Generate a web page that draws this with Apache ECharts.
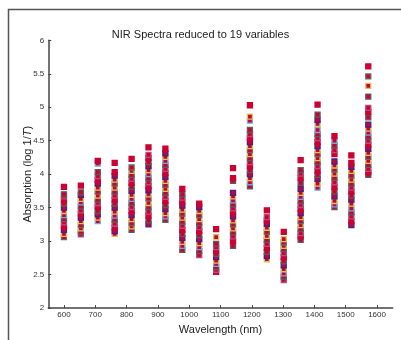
<!DOCTYPE html>
<html>
<head>
<meta charset="utf-8">
<script src="https://cdn.jsdelivr.net/npm/echarts@6/dist/echarts.min.js"></script>
<style>html,body{margin:0;padding:0;background:#fff;}#c{width:401px;height:340px;}</style>
</head>
<body>
<div id="c"></div>
<script>
// Wavelengths (nm) of the 19 retained variables
const wavelengths = [600, 654, 708, 762, 816, 870, 924, 978, 1032, 1086, 1140, 1194, 1248, 1302, 1356, 1410, 1464, 1518, 1572];
const xTickValues = [600, 700, 800, 900, 1000, 1100, 1200, 1300, 1400, 1500, 1600];
const yTickValues = [2, 2.5, 3, 3.5, 4, 4.5, 5, 5.5, 6];

// Absorption values read per wavelength column (top to bottom)
const abs600  = [3.81, 3.70, 3.67, 3.61, 3.56, 3.50, 3.45, 3.39, 3.33, 3.28, 3.22, 3.17, 3.11, 3.06];
const abs654  = [3.83, 3.73, 3.69, 3.63, 3.58, 3.52, 3.46, 3.41, 3.35, 3.30, 3.24, 3.19, 3.14, 3.10];
const abs708  = [4.20, 4.16, 4.03, 3.97, 3.91, 3.86, 3.80, 3.74, 3.68, 3.62, 3.57, 3.51, 3.45, 3.40, 3.35, 3.30];
const abs762  = [4.17, 4.03, 3.98, 3.92, 3.86, 3.80, 3.74, 3.68, 3.62, 3.56, 3.50, 3.44, 3.38, 3.32, 3.26, 3.20, 3.15, 3.11];
const abs816  = [4.23, 4.10, 4.05, 3.99, 3.93, 3.87, 3.81, 3.75, 3.69, 3.63, 3.57, 3.51, 3.45, 3.39, 3.33, 3.27, 3.22, 3.17];
const abs870  = [4.40, 4.29, 4.24, 4.18, 4.12, 4.06, 4.00, 3.94, 3.88, 3.82, 3.76, 3.70, 3.64, 3.57, 3.51, 3.44, 3.38, 3.31, 3.25];
const abs924  = [4.38, 4.31, 4.26, 4.20, 4.14, 4.08, 4.02, 3.96, 3.90, 3.84, 3.78, 3.72, 3.66, 3.60, 3.54, 3.48, 3.42, 3.37, 3.32];
const abs978  = [3.78, 3.70, 3.65, 3.59, 3.53, 3.47, 3.41, 3.35, 3.29, 3.23, 3.17, 3.11, 3.05, 2.99, 2.93, 2.87];
const abs1032 = [3.56, 3.51, 3.45, 3.39, 3.33, 3.27, 3.21, 3.15, 3.09, 3.03, 2.97, 2.91, 2.85, 2.79];
const abs1086 = [3.18, 3.06, 2.96, 2.91, 2.86, 2.81, 2.76, 2.71, 2.66, 2.61, 2.57, 2.54];
const abs1140 = [4.09, 3.94, 3.90, 3.72, 3.67, 3.61, 3.55, 3.49, 3.43, 3.37, 3.31, 3.25, 3.19, 3.13, 3.07, 3.00, 2.93];
const abs1194 = [5.03, 4.86, 4.80, 4.66, 4.60, 4.54, 4.48, 4.42, 4.36, 4.30, 4.24, 4.18, 4.12, 4.06, 4.00, 3.94, 3.88, 3.82];
const abs1248 = [3.46, 3.36, 3.31, 3.26, 3.20, 3.14, 3.08, 3.02, 2.96, 2.90, 2.84, 2.78, 2.73];
const abs1302 = [3.14, 3.03, 2.98, 2.93, 2.88, 2.82, 2.76, 2.70, 2.64, 2.58, 2.52, 2.47, 2.42];
const abs1356 = [4.21, 4.06, 4.01, 3.95, 3.87, 3.78, 3.72, 3.66, 3.60, 3.54, 3.48, 3.42, 3.36, 3.30, 3.24, 3.18, 3.12, 3.07, 3.02];
const abs1410 = [5.04, 4.89, 4.81, 4.75, 4.66, 4.60, 4.54, 4.48, 4.42, 4.36, 4.30, 4.24, 4.18, 4.12, 4.05, 3.99, 3.93, 3.86, 3.80];
const abs1464 = [4.57, 4.50, 4.43, 4.36, 4.30, 4.19, 4.13, 4.07, 4.01, 3.95, 3.88, 3.81, 3.74, 3.67, 3.60, 3.55, 3.51];
const abs1518 = [4.28, 4.17, 4.11, 4.05, 3.98, 3.92, 3.86, 3.80, 3.74, 3.68, 3.62, 3.56, 3.49, 3.43, 3.37, 3.30, 3.24];
const abs1572 = [5.61, 5.46, 5.32, 5.16, 4.99, 4.93, 4.85, 4.74, 4.68, 4.62, 4.56, 4.50, 4.44, 4.38, 4.32, 4.26, 4.20, 4.14, 4.08, 4.03, 3.99];

const columns = [abs600, abs654, abs708, abs762, abs816, abs870, abs924, abs978, abs1032, abs1086,
                 abs1140, abs1194, abs1248, abs1302, abs1356, abs1410, abs1464, abs1518, abs1572];

// marker styling (not data)
const RED = '#cc0033';
const rimCycle = ['#d6c45c', '#5e5e5e', '#b24f7d', RED, '#5e5e5e', '#3d2590', '#d6c45c',
                  '#7aa6d6', '#5e5e5e', '#b24f7d', RED, '#3d2590', '#d6c45c', '#6a6a60'];

const series = columns.map((vals, ci) => ({
  type: 'scatter',
  symbol: 'rect',
  symbolSize: 5,
  silent: true,
  data: vals.map((v, i) => {
    const rim = i === 0 ? RED : rimCycle[(i + ci * 3) % rimCycle.length];
    return {
      value: [wavelengths[ci], v],
      itemStyle: { color: RED, borderColor: rim, borderWidth: 1.3, opacity: 1 }
    };
  }).reverse()
}));

const chart = echarts.init(document.getElementById('c'), null, { renderer: 'canvas' });
chart.setOption({
  animation: false,
  backgroundColor: '#fff',
  graphic: [{
    type: 'rect', shape: { x: 8.5, y: 9.5, width: 500, height: 400 },
    style: { fill: 'none', stroke: '#555', lineWidth: 1.5 }, silent: true, z: -1
  }],
  title: {
    text: 'NIR Spectra reduced to 19 variables',
    left: 'center', top: 24,
    textStyle: { fontFamily: 'Liberation Sans', fontSize: 11, fontWeight: 'normal', color: '#222' }
  },
  grid: { left: 48.3, right: 8.3, top: 40.3, bottom: 27.7 },
  xAxis: {
    type: 'value', min: 550, max: 1650,
    name: 'Wavelength (nm)', nameLocation: 'middle', nameGap: 15,
    nameTextStyle: { fontFamily: 'Liberation Sans', fontSize: 11, color: '#222' },
    axisLine: { show: true, lineStyle: { color: '#444', width: 1.5 } },
    axisTick: { show: true, inside: true, length: 3, customValues: xTickValues, lineStyle: { color: '#444' } },
    axisLabel: { customValues: xTickValues, formatter: v => String(v),
                 fontFamily: 'Liberation Sans', fontSize: 8, color: '#333', margin: 3 },
    splitLine: { show: false }
  },
  yAxis: {
    type: 'value', min: 2, max: 6, interval: 0.5,
    name: '{n|Absorption (log 1/}{i|T}{n|)}', nameLocation: 'middle', nameGap: 15, nameRotate: 90,
    nameMoveOverlap: false,
    nameTextStyle: { rich: {
      n: { fontFamily: 'Liberation Sans', fontSize: 11, color: '#222' },
      i: { fontFamily: 'Liberation Sans', fontSize: 11, color: '#222', fontStyle: 'italic' }
    } },
    axisLine: { show: true, lineStyle: { color: '#444', width: 1.5 } },
    axisTick: { show: true, inside: true, length: 3, lineStyle: { color: '#444' } },
    axisLabel: { fontFamily: 'Liberation Sans', fontSize: 8, color: '#333', margin: 4 },
    splitLine: { show: false }
  },
  series: series
});
</script>
</body>
</html>
